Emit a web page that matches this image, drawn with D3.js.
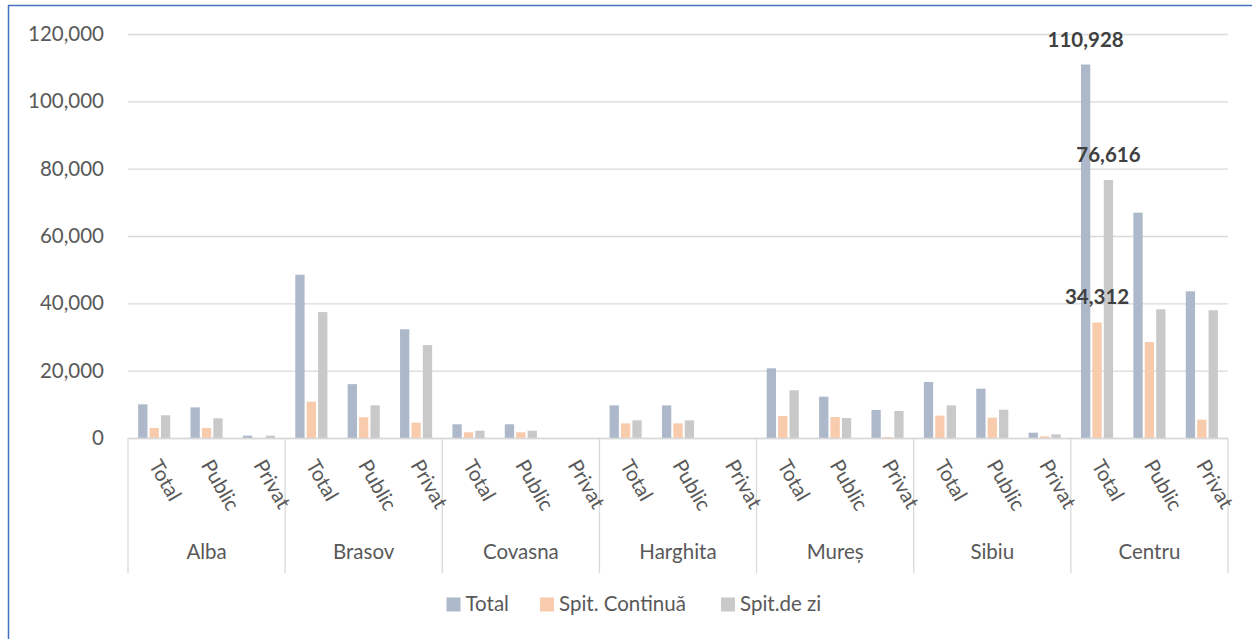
<!DOCTYPE html>
<html>
<head>
<meta charset="utf-8">
<script src="https://cdn.jsdelivr.net/npm/d3@7"></script>
<style>
html,body{margin:0;padding:0;background:#fff;}
svg{display:block;}
text{font-family:Lato,"Open Sans",sans-serif;}
</style>
</head>
<body>
<svg id="chart" width="1252" height="639"></svg>
<script>
// ---- data ----
const groups = ["Alba","Brasov","Covasna","Harghita","Mureș","Sibiu","Centru"];
const subcats = ["Total","Public","Privat"];
const seriesNames = ["Total","Spit. Continuă","Spit.de zi"];
const seriesColors = ["#adb9ca","#f8cbad","#c9c9c9"];
const valuesTotal = [10000,9100,700, 48500,16000,32300, 4070,4070,0, 9700,9700,0, 20700,12270,8320, 16640,14650,1580, 110928,66930,43570];
const valuesContinua = [3000,3000,0, 10800,6150,4550, 1700,1700,0, 4350,4350,0, 6530,6230,300, 6630,6030,500, 34312,28520,5450];
const valuesZi = [6750,5850,700, 37400,9700,27600, 2170,2170,0, 5250,5250,0, 14170,5940,8020, 9700,8400,1100, 76616,38230,37940];
const yTicks = [0,20000,40000,60000,80000,100000,120000];
const labelled = [{s:0,i:18},{s:1,i:18},{s:2,i:18}];

const seriesValues = [valuesTotal, valuesContinua, valuesZi];
const svg = d3.select("#chart");

// frame
svg.append("line").attr("x1",8.5).attr("x2",8.5).attr("y1",5).attr("y2",639).attr("stroke","#4472c4").attr("stroke-width",1.5);
svg.append("line").attr("x1",8).attr("x2",1252).attr("y1",5.5).attr("y2",5.5).attr("stroke","#4472c4").attr("stroke-width",1.5);

const pLeft = 128, pRight = 1228, pTop = 34, pBottom = 438;
const y = d3.scaleLinear().domain([0,120000]).range([pBottom, pTop]);
const cats = [];
groups.forEach((g,gi)=>subcats.forEach((s,si)=>cats.push({g,s,idx:gi*3+si})));
const xGroup = d3.scaleBand().domain(groups).range([pLeft,pRight]);
const xCat = d3.scaleBand().domain(d3.range(cats.length)).range([pLeft,pRight]);
const xSer = d3.scaleBand().domain(seriesNames).range([-16.05,16.05]).paddingInner(0.184);

const fmt = d3.format(",");
const textColor = "#595959";

// gridlines & y labels
const yAxis = d3.axisLeft(y).tickValues(yTicks).tickFormat(fmt).tickSize(-(pRight-pLeft)).tickPadding(24);
const ga = svg.append("g").attr("transform",`translate(${pLeft},0)`).call(yAxis);
ga.select(".domain").remove();
ga.selectAll(".tick line").attr("stroke","#d9d9d9").attr("stroke-width",1.3);
ga.selectAll(".tick text").attr("fill",textColor).attr("font-size",20.5).attr("font-family","Lato, sans-serif");

// bars
seriesNames.forEach((name,si)=>{
  svg.append("g").selectAll("rect").data(seriesValues[si]).join("rect")
    .attr("x",(d,i)=>xCat(i)+xCat.bandwidth()/2+xSer(name))
    .attr("width",xSer.bandwidth())
    .attr("y",d=>y(d))
    .attr("height",d=>y(0)-y(d))
    .attr("fill",seriesColors[si]);
});

// baseline axis
svg.append("line").attr("x1",pLeft).attr("x2",pRight).attr("y1",pBottom+0.5).attr("y2",pBottom+0.5).attr("stroke","#d9d9d9").attr("stroke-width",1.3);

// group separators
const seps = groups.map(g=>xGroup(g)).concat([pRight]);
svg.append("g").selectAll("line").data(seps).join("line")
  .attr("x1",d=>d).attr("x2",d=>d).attr("y1",pBottom).attr("y2",573)
  .attr("stroke","#d9d9d9").attr("stroke-width",1.3);

// subcategory labels (rotated)
svg.append("g").selectAll("text").data(cats).join("text")
  .attr("transform",d=>`translate(${xCat(d.idx)+xCat.bandwidth()/2-6},${465}) rotate(60)`)
  .attr("fill",textColor).attr("font-size",20.5)
  .text(d=>d.s);

// group labels
svg.append("g").selectAll("text").data(groups).join("text")
  .attr("x",d=>xGroup(d)+xGroup.bandwidth()/2).attr("y",559)
  .attr("text-anchor","middle").attr("fill",textColor).attr("font-size",20.5)
  .text(d=>d);

// data labels
svg.append("g").selectAll("text").data(labelled).join("text")
  .attr("x",d=>xCat(d.i)+xCat.bandwidth()/2+xSer(seriesNames[d.s])+xSer.bandwidth()/2)
  .attr("y",d=>y(seriesValues[d.s][d.i])-18)
  .attr("text-anchor","middle").attr("fill","#404040").attr("font-size",20.5).attr("font-weight","bold")
  .text(d=>fmt(seriesValues[d.s][d.i]));

// legend
const legendX = [446.5, 540, 721];
const lg = svg.append("g");
seriesNames.forEach((n,i)=>{
  lg.append("rect").attr("x",legendX[i]).attr("y",597.5).attr("width",14).attr("height",14).attr("fill",seriesColors[i]);
  lg.append("text").attr("x",legendX[i]+19).attr("y",611).attr("fill",textColor).attr("font-size",20.5).text(n);
});
</script>
</body>
</html>
